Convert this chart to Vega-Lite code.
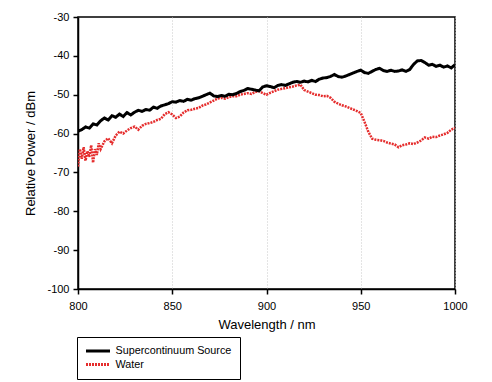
{
  "$schema": "https://vega.github.io/schema/vega-lite/v6.json",
  "autosize": "none",
  "width": 377,
  "height": 272,
  "padding": {"left": 78, "top": 17, "right": 37, "bottom": 93},
  "background": "white",
  "config": {
    "view": {"stroke": "black", "strokeWidth": 1.5},
    "font": "Liberation Sans",
    "axis": {
      "labelFont": "Liberation Sans",
      "labelFontSize": 11,
      "labelColor": "black",
      "titleFont": "Liberation Sans",
      "titleFontSize": 13,
      "titleFontWeight": "normal",
      "titleColor": "black",
      "domainColor": "black",
      "domainWidth": 1.5,
      "tickColor": "black",
      "tickWidth": 1.5,
      "tickSize": 5
    }
  },
  "datasets": {
    "sc": [
      {"wl":800,"p":-59.4},{"wl":802,"p":-59.0},{"wl":804,"p":-58.3},{"wl":806,"p":-58.6},{"wl":808,"p":-57.5},
      {"wl":810,"p":-57.8},{"wl":812,"p":-56.7},{"wl":814,"p":-56.0},{"wl":816,"p":-56.5},{"wl":818,"p":-55.4},
      {"wl":820,"p":-55.8},{"wl":822,"p":-55.0},{"wl":824,"p":-55.6},{"wl":826,"p":-54.6},{"wl":828,"p":-55.2},
      {"wl":830,"p":-54.5},{"wl":832,"p":-54.0},{"wl":834,"p":-54.3},{"wl":836,"p":-53.8},{"wl":838,"p":-54.0},
      {"wl":840,"p":-53.2},{"wl":842,"p":-53.5},{"wl":844,"p":-52.9},{"wl":846,"p":-52.6},{"wl":848,"p":-52.3},
      {"wl":850,"p":-51.8},{"wl":852,"p":-51.9},{"wl":854,"p":-51.5},{"wl":856,"p":-51.7},{"wl":858,"p":-51.2},
      {"wl":860,"p":-51.4},{"wl":862,"p":-51.0},{"wl":864,"p":-50.8},{"wl":866,"p":-50.4},{"wl":868,"p":-50.0},
      {"wl":870,"p":-49.6},{"wl":872,"p":-50.3},{"wl":874,"p":-50.5},{"wl":876,"p":-50.2},{"wl":878,"p":-50.4},
      {"wl":880,"p":-49.9},{"wl":882,"p":-50.0},{"wl":884,"p":-49.7},{"wl":886,"p":-49.2},{"wl":888,"p":-48.9},
      {"wl":890,"p":-48.4},{"wl":892,"p":-48.6},{"wl":894,"p":-48.8},{"wl":896,"p":-49.0},{"wl":898,"p":-48.0},
      {"wl":900,"p":-47.7},{"wl":902,"p":-47.9},{"wl":904,"p":-48.2},{"wl":906,"p":-47.6},{"wl":908,"p":-47.4},
      {"wl":910,"p":-47.6},{"wl":912,"p":-47.2},{"wl":914,"p":-46.8},{"wl":916,"p":-46.6},{"wl":918,"p":-46.8},
      {"wl":920,"p":-46.5},{"wl":922,"p":-46.7},{"wl":924,"p":-46.3},{"wl":926,"p":-46.6},{"wl":928,"p":-46.0},
      {"wl":930,"p":-45.7},{"wl":932,"p":-45.6},{"wl":934,"p":-45.3},{"wl":936,"p":-44.8},{"wl":938,"p":-45.3},
      {"wl":940,"p":-45.5},{"wl":942,"p":-45.2},{"wl":944,"p":-44.8},{"wl":946,"p":-44.4},{"wl":948,"p":-44.0},
      {"wl":950,"p":-43.7},{"wl":952,"p":-44.3},{"wl":954,"p":-44.5},{"wl":956,"p":-44.0},{"wl":958,"p":-43.5},
      {"wl":960,"p":-43.2},{"wl":962,"p":-43.8},{"wl":964,"p":-44.0},{"wl":966,"p":-43.7},{"wl":968,"p":-44.0},
      {"wl":970,"p":-43.9},{"wl":972,"p":-43.6},{"wl":974,"p":-44.0},{"wl":976,"p":-43.5},{"wl":978,"p":-42.2},
      {"wl":980,"p":-41.3},{"wl":982,"p":-41.2},{"wl":984,"p":-41.7},{"wl":986,"p":-42.4},{"wl":988,"p":-42.2},
      {"wl":990,"p":-42.7},{"wl":992,"p":-42.4},{"wl":994,"p":-42.9},{"wl":996,"p":-42.6},{"wl":998,"p":-43.1},
      {"wl":1000,"p":-42.3}
    ],
    "water": [
      {"wl":800,"p":-68.5},{"wl":801,"p":-64.0},{"wl":802,"p":-66.5},{"wl":803,"p":-63.5},{"wl":804,"p":-67.0},
      {"wl":805,"p":-64.5},{"wl":806,"p":-66.0},{"wl":807,"p":-63.0},{"wl":808,"p":-67.5},{"wl":809,"p":-64.0},
      {"wl":810,"p":-65.5},{"wl":811,"p":-62.5},{"wl":812,"p":-64.0},{"wl":814,"p":-62.0},{"wl":816,"p":-61.2},
      {"wl":818,"p":-62.5},{"wl":820,"p":-60.5},{"wl":822,"p":-59.5},{"wl":824,"p":-60.0},{"wl":826,"p":-59.2},
      {"wl":828,"p":-58.6},{"wl":830,"p":-58.2},{"wl":832,"p":-59.0},{"wl":834,"p":-58.0},{"wl":836,"p":-57.5},
      {"wl":838,"p":-57.3},{"wl":840,"p":-57.0},{"wl":842,"p":-56.5},{"wl":844,"p":-56.2},{"wl":846,"p":-55.0},
      {"wl":848,"p":-54.5},{"wl":850,"p":-55.1},{"wl":852,"p":-56.0},{"wl":854,"p":-55.6},{"wl":856,"p":-54.6},
      {"wl":858,"p":-54.0},{"wl":860,"p":-53.9},{"wl":862,"p":-53.6},{"wl":864,"p":-53.4},{"wl":866,"p":-52.8},
      {"wl":868,"p":-52.5},{"wl":870,"p":-52.0},{"wl":872,"p":-51.5},{"wl":874,"p":-51.0},{"wl":876,"p":-50.8},
      {"wl":878,"p":-51.0},{"wl":880,"p":-50.6},{"wl":882,"p":-50.4},{"wl":884,"p":-50.4},{"wl":886,"p":-50.0},
      {"wl":888,"p":-49.8},{"wl":890,"p":-49.6},{"wl":892,"p":-49.8},{"wl":894,"p":-49.3},{"wl":896,"p":-49.1},
      {"wl":898,"p":-49.6},{"wl":900,"p":-50.0},{"wl":902,"p":-49.5},{"wl":904,"p":-49.1},{"wl":906,"p":-48.7},
      {"wl":908,"p":-48.5},{"wl":910,"p":-48.3},{"wl":912,"p":-48.1},{"wl":914,"p":-47.9},{"wl":916,"p":-47.6},
      {"wl":918,"p":-47.4},{"wl":920,"p":-48.8},{"wl":922,"p":-49.2},{"wl":924,"p":-49.6},{"wl":926,"p":-50.0},
      {"wl":928,"p":-50.1},{"wl":930,"p":-50.4},{"wl":932,"p":-50.3},{"wl":934,"p":-50.8},{"wl":936,"p":-51.8},
      {"wl":938,"p":-52.3},{"wl":940,"p":-52.7},{"wl":942,"p":-53.0},{"wl":944,"p":-53.4},{"wl":946,"p":-53.8},
      {"wl":948,"p":-54.2},{"wl":950,"p":-54.7},{"wl":952,"p":-57.0},{"wl":954,"p":-59.5},{"wl":956,"p":-61.3},
      {"wl":958,"p":-61.6},{"wl":960,"p":-61.7},{"wl":962,"p":-61.9},{"wl":964,"p":-62.3},{"wl":966,"p":-62.6},
      {"wl":968,"p":-62.8},{"wl":970,"p":-63.5},{"wl":972,"p":-63.0},{"wl":974,"p":-62.8},{"wl":976,"p":-62.5},
      {"wl":978,"p":-62.7},{"wl":980,"p":-62.3},{"wl":982,"p":-61.8},{"wl":984,"p":-61.0},{"wl":986,"p":-61.3},
      {"wl":988,"p":-60.8},{"wl":990,"p":-60.9},{"wl":992,"p":-60.5},{"wl":994,"p":-60.2},{"wl":996,"p":-59.8},
      {"wl":998,"p":-59.0},{"wl":1000,"p":-58.5}
    ]
  },
  "encoding": {
    "x": {
      "field": "wl", "type": "quantitative",
      "scale": {"domain": [800, 1000], "nice": false, "zero": false},
      "axis": {
        "title": "Wavelength / nm",
        "values": [800, 850, 900, 950, 1000],
        "labelExpr": "'' + datum.value",
        "labelFlush": false,
        "grid": true, "gridColor": "#c8c8c8", "gridDash": [1, 2], "gridWidth": 1,
        "labelPadding": 6, "titlePadding": 7
      }
    },
    "y": {
      "field": "p", "type": "quantitative",
      "scale": {"domain": [-100, -30], "nice": false, "zero": false},
      "axis": {
        "title": "Relative Power / dBm",
        "values": [-100, -90, -80, -70, -60, -50, -40, -30],
        "labelExpr": "'' + datum.value",
        "labelFlush": false,
        "grid": false, "labelPadding": 4, "titlePadding": 9
      }
    },
    "color": {
      "field": "s", "type": "nominal",
      "scale": {"domain": ["Supercontinuum Source", "Water"], "range": ["black", "#e52d2d"]},
      "legend": {
        "title": null, "orient": "none", "legendX": -1, "legendY": 320,
        "direction": "vertical",
        "strokeColor": "black", "fillColor": "white", "padding": 8.5,
        "labelFont": "Liberation Sans", "labelFontSize": 10.8, "labelColor": "black",
        "symbolType": "M-3,0H3", "symbolSize": 64, "symbolStrokeWidth": 3,
        "symbolOffset": 7, "labelOffset": 12,
        "rowPadding": 0.5, "labelLimit": 300
      }
    },
    "strokeDash": {
      "field": "s", "type": "nominal",
      "scale": {"domain": ["Supercontinuum Source", "Water"], "range": [[1, 0], [2, 1]]},
      "legend": null
    }
  },
  "layer": [
    {
      "data": {"name": "water"},
      "mark": {"type": "line", "strokeWidth": 2.5, "clip": true},
      "encoding": {"color": {"datum": "Water"}, "strokeDash": {"datum": "Water"}}
    },
    {
      "data": {"name": "sc"},
      "mark": {"type": "line", "strokeWidth": 3, "clip": true},
      "encoding": {"color": {"datum": "Supercontinuum Source"}, "strokeDash": {"datum": "Supercontinuum Source"}}
    }
  ]
}
